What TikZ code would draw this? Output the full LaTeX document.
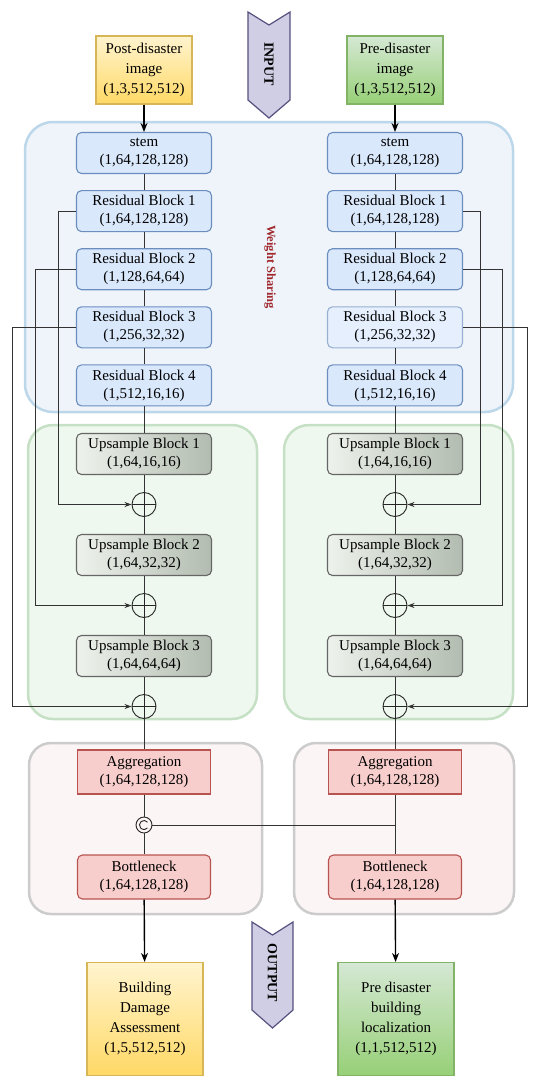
\documentclass[tikz,border=0pt]{standalone}
\usepackage{fontspec}
\setmainfont{Liberation Serif}
\usetikzlibrary{arrows.meta, positioning}
\definecolor{resfill}{HTML}{DAE8FC}
\definecolor{resline}{HTML}{6C8EBF}
\definecolor{wsfill}{HTML}{EEF4FA}
\definecolor{wsline}{HTML}{BCD7EA}
\definecolor{upfill}{HTML}{EEF8EE}
\definecolor{upline}{HTML}{C5E0C5}
\definecolor{uplt}{HTML}{EEF2EC}
\definecolor{updk}{HTML}{B2BCB0}
\definecolor{pkfill}{HTML}{FCF5F5}
\definecolor{pkline}{HTML}{CCCCCC}
\definecolor{aggfill}{HTML}{F8CECC}
\definecolor{aggline}{HTML}{B85450}
\definecolor{yellt}{HTML}{FFF4CF}
\definecolor{yeldk}{HTML}{FFD966}
\definecolor{yelline}{HTML}{D6B656}
\definecolor{grnlt}{HTML}{D5E8D4}
\definecolor{grndk}{HTML}{97D077}
\definecolor{grnline}{HTML}{82B366}
\definecolor{chevfill}{HTML}{D0CEE4}
\definecolor{chevline}{HTML}{56517E}
\definecolor{wstext}{HTML}{A0282D}

\begin{document}
\begin{tikzpicture}[x=1pt, y=-1pt,
      node distance=16pt,
      blk/.style={rectangle, line width=1.1pt, minimum width=135pt, minimum height=41pt,
                  inner sep=0pt, align=center, font=\fontsize{15}{18}\selectfont},
      resblk/.style={blk, rounded corners=5pt, draw=resline, fill=resfill},
      upblk/.style={blk, rounded corners=5pt, draw=black!60, left color=uplt, right color=updk},
      aggblk/.style={blk, minimum width=133pt, minimum height=44pt, draw=aggline, fill=aggfill},
      iobox/.style={rectangle, line width=1.1pt, minimum width=96pt, minimum height=68pt,
                    inner sep=0pt, align=center, font=\fontsize{15}{20}\selectfont},
      outbox/.style={iobox, minimum width=116pt, minimum height=113pt},
      addop/.style={circle, draw=black!85, line width=0.9pt, minimum size=24pt, inner sep=0pt,
                    path picture={\draw[black!85, line width=0.9pt]
                      (path picture bounding box.north) -- (path picture bounding box.south)
                      (path picture bounding box.west) -- (path picture bounding box.east);}},
      catop/.style={circle, draw=black!85, line width=0.9pt, minimum size=16pt, inner sep=0pt,
                    path picture={\draw[black!85, line width=0.9pt]
                      ([shift={(40:4.5pt)}]path picture bounding box.center) arc[start angle=40, end angle=320, radius=4.5pt];}},
      grp/.style={line width=2.5pt},
      chev/.style={draw=chevline, fill=chevfill, line width=1.2pt, line join=miter},
      lnk/.style={draw=black!80, line width=1pt},
      skip/.style={lnk, -{Stealth[length=7pt, width=5pt]}},
      arr/.style={-{Stealth[length=9pt, width=7pt]}, line width=1.4pt, black}
    ]
      \useasboundingbox (0,0) rectangle (550,1081);

      % group backgrounds
      \draw[grp, draw=wsline, fill=wsfill, rounded corners=28pt] (25,122) rectangle (513,412);
      \draw[grp, draw=upline, fill=upfill, rounded corners=25pt] (28,425) rectangle (257,719);
      \draw[grp, draw=upline, fill=upfill, rounded corners=25pt] (284,425) rectangle (513,719);
      \draw[grp, draw=pkline, fill=pkfill, rounded corners=22pt] (29,743) rectangle (262,914);
      \draw[grp, draw=pkline, fill=pkfill, rounded corners=22pt] (294,743) rectangle (514,914);

      % input / output markers
      \draw[chev] (248,12) -- (269,25) -- (290,12) -- (290,100) -- (269,118) -- (248,100) -- cycle;
      \node[rotate=-90, font=\bfseries\fontsize{14}{14}\selectfont] (inlbl) at (269,64) {INPUT};
      \draw[chev] (252,922) -- (272.5,935) -- (293,922) -- (293,1010) -- (272.5,1028) -- (252,1010) -- cycle;
      \node[rotate=-90, font=\bfseries\fontsize{14}{14}\selectfont] (outlbl) at (272.5,973) {OUTPUT};
      \node[rotate=-90, text=wstext, font=\bfseries\fontsize{12.5}{14}\selectfont] (wslbl) at (270,267) {Weight Sharing};

      % inputs
      \node[iobox, draw=yelline, top color=yellt, bottom color=yeldk] (postin) at (144,70) {Post-disaster\\image\\(1,3,512,512)};
      \node[iobox, draw=grnline, top color=grnlt, bottom color=grndk] (prein) at (395,70) {Pre-disaster\\image\\(1,3,512,512)};

      % encoder, post-disaster side
      \node[resblk] (stemL) at (144,153) {stem\\(1,64,128,128)};
      \node[resblk, below=of stemL] (res1L) {Residual Block 1\\(1,64,128,128)};
      \node[resblk, below=of res1L] (res2L) {Residual Block 2\\(1,128,64,64)};
      \node[resblk, below=of res2L] (res3L) {Residual Block 3\\(1,256,32,32)};
      \node[resblk, below=of res3L] (res4L) {Residual Block 4\\(1,512,16,16)};

      % encoder, pre-disaster side
      \node[resblk] (stemR) at (395,153) {stem\\(1,64,128,128)};
      \node[resblk, below=of stemR] (res1R) {Residual Block 1\\(1,64,128,128)};
      \node[resblk, below=of res1R] (res2R) {Residual Block 2\\(1,128,64,64)};
      \node[resblk, below=of res2R, fill=resfill!70, draw=resline!70] (res3R) {Residual Block 3\\(1,256,32,32)};
      \node[resblk, below=of res3R] (res4R) {Residual Block 4\\(1,512,16,16)};

      % decoders
      \node[upblk] (up1L) at (144,454) {Upsample Block 1\\(1,64,16,16)};
      \node[addop, below=17pt of up1L] (add1L) {};
      \node[upblk, below=17pt of add1L] (up2L) {Upsample Block 2\\(1,64,32,32)};
      \node[addop, below=17pt of up2L] (add2L) {};
      \node[upblk, below=17pt of add2L] (up3L) {Upsample Block 3\\(1,64,64,64)};
      \node[addop, below=17pt of up3L] (add3L) {};

      \node[upblk] (up1R) at (395,454) {Upsample Block 1\\(1,64,16,16)};
      \node[addop, below=17pt of up1R] (add1R) {};
      \node[upblk, below=17pt of add1R] (up2R) {Upsample Block 2\\(1,64,32,32)};
      \node[addop, below=17pt of up2R] (add2R) {};
      \node[upblk, below=17pt of add2R] (up3R) {Upsample Block 3\\(1,64,64,64)};
      \node[addop, below=17pt of up3R] (add3R) {};

      % heads
      \node[aggblk] (aggL) at (144,772) {Aggregation\\(1,64,128,128)};
      \node[catop] (catL) at (144,825) {};
      \node[aggblk, rounded corners=5pt] (botL) at (144,877) {Bottleneck\\(1,64,128,128)};
      \node[aggblk] (aggR) at (395,772) {Aggregation\\(1,64,128,128)};
      \node[aggblk, rounded corners=5pt] (botR) at (395,877) {Bottleneck\\(1,64,128,128)};

      % outputs
      \node[outbox, draw=yelline, top color=yellt, bottom color=yeldk] (outL) at (145,1019) {Building\\Damage\\Assessment\\(1,5,512,512)};
      \node[outbox, draw=grnline, top color=grnlt, bottom color=grndk] (outR) at (396,1019) {Pre disaster\\building\\localization\\(1,1,512,512)};

      % main flow
      \draw[arr] (postin) -- (stemL);
      \draw[arr] (prein) -- (stemR);
      \draw[lnk] (stemL) -- (res1L) -- (res2L) -- (res3L) -- (res4L) -- (up1L) -- (add1L) -- (up2L) -- (add2L) -- (up3L) -- (add3L) -- (aggL) -- (catL) -- (botL);
      \draw[lnk] (stemR) -- (res1R) -- (res2R) -- (res3R) -- (res4R) -- (up1R) -- (add1R) -- (up2R) -- (add2R) -- (up3R) -- (add3R) -- (aggR) -- (botR);
      \draw[lnk] (catL.east) -- (catL -| aggR);
      \draw[arr] (botL) -- (outL);
      \draw[arr] (botR) -- (outR);

      % skip connections
      \draw[skip] (res1L.west) -- ++(-17,0) |- (add1L.west);
      \draw[skip] (res2L.west) -- ++(-40,0) |- (add2L.west);
      \draw[skip] (res3L.west) -- ++(-63,0) |- (add3L.west);
      \draw[skip] (res1R.east) -- ++(17,0) |- (add1R.east);
      \draw[skip] (res2R.east) -- ++(39,0) |- (add2R.east);
      \draw[skip] (res3R.east) -- ++(64,0) |- (add3R.east);
    \end{tikzpicture}
\end{document}
